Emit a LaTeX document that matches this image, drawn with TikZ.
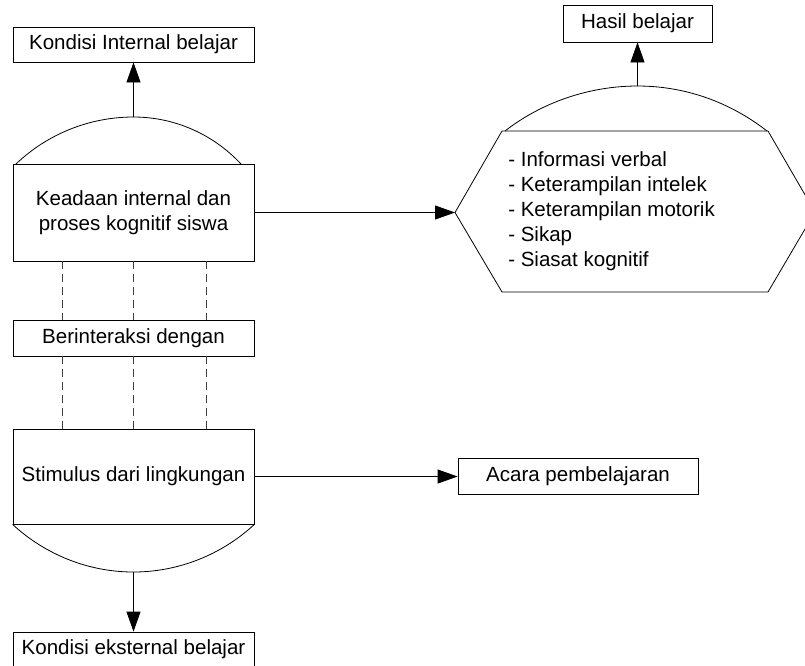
\documentclass[tikz,border=0pt]{standalone}
\usepackage{fontspec}
\setmainfont{Liberation Sans}
\usetikzlibrary{arrows.meta}
\begin{document}
\begin{tikzpicture}[x=0.75pt,y=-0.75pt,
  txt/.style={font=\fontsize{15.4}{18.75}\selectfont},
  box/.style={txt, draw=black, line width=0.6pt, minimum width=180.75pt, inner sep=0pt, align=center},
  shapeline/.style={draw=black, line width=0.6pt},
  conn/.style={draw=black, line width=0.6pt, -{Triangle[length=15pt,width=10.5pt]}},
  dashline/.style={draw=black!75, line width=0.6pt, dash pattern=on 6pt off 3.75pt}]
\useasboundingbox (0,0) rectangle (805,665);
% boxes
\node[box, minimum height=26.25pt] (kin) at (133.5,44.5) {Kondisi Internal belajar};
\node[box, minimum height=72.75pt] (keadaan) at (133.5,212.5) {Keadaan internal dan\\proses kognitif siswa};
\node[box, minimum height=27pt] (berint) at (133.5,338) {Berinteraksi dengan};
\node[box, minimum height=71.25pt] (stim) at (133.5,476.5) {Stimulus dari lingkungan};
\node[box, minimum height=26.25pt] (kek) at (133.5,649.5) {Kondisi eksternal belajar};
\node[box, minimum width=111.75pt, minimum height=27.75pt] (hasil) at (637.5,23.5) {Hasil belajar};
\node[box, minimum width=180pt, minimum height=27pt] (acara) at (578,476.5) {Acara pembelajaran};
% arcs
\coordinate (topk) at (133.5,117);
\draw[shapeline] (16,164) .. controls (47.5,133.8) and (89.9,117) .. (topk)
  .. controls (174.4,117) and (213.1,134.1) .. (241,164);
\coordinate (toph) at (637.5,86);
\draw[shapeline] (505,131) .. controls (542.4,101.9) and (590.1,86) .. (toph)
  .. controls (684.9,86) and (729.6,101.9) .. (767,131);
\coordinate (bots) at (133.5,572);
\draw[shapeline] (stim.south west) .. controls (45.5,554.8) and (88.7,572) .. (bots)
  .. controls (178.3,572) and (221.5,554.8) .. (stim.south east);
% hexagon
\coordinate (hexL) at (455,212.5);
\draw[shapeline] (hexL) -- (502,131) -- (768,131) -- (815,212) -- (768,292) -- (502,292) -- cycle;
\node[txt, anchor=west, align=left, inner sep=0pt] (hextext) at (508,211.5)
  {- Informasi verbal\\- Keterampilan intelek\\- Keterampilan motorik\\- Sikap\\- Siasat kognitif};
% dashed links
\coordinate (d1) at (62,0);
\coordinate (d2) at (133.5,0);
\coordinate (d3) at (206,0);
\foreach \d in {d1,d2,d3}{
  \draw[dashline] (keadaan.south -| \d) -- (berint.north -| \d);
  \draw[dashline] (berint.south -| \d) -- (stim.north -| \d);
}
% connectors
\draw[conn] (topk) -- (kin.south);
\draw[conn] (toph) -- (hasil.south);
\draw[conn] (keadaan.east) -- (hexL);
\draw[conn] (stim.east) -- (acara.west);
\draw[conn] (bots) -- (kek.north);
\end{tikzpicture}
\end{document}
